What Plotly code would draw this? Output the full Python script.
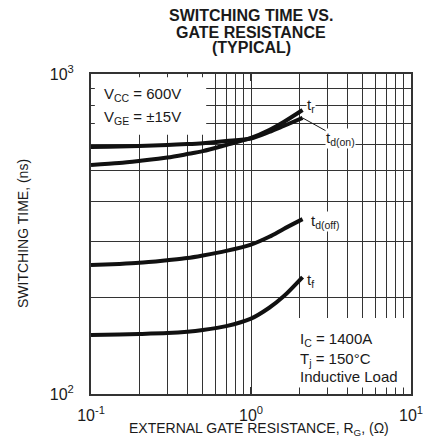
import math
import plotly.graph_objects as go

# ---- data ----
rg = [0.1, 0.15, 0.2, 0.3, 0.4, 0.5, 0.7, 1.0, 1.3, 1.6, 2.1]
t_r = [520, 527, 535, 548, 562, 574, 600, 631, 668, 708, 772]
t_d_on = [591, 593, 596, 600, 604, 608, 617, 629, 659, 688, 729]
t_d_off = [253, 255, 257, 262, 266, 271, 280, 293, 310, 328, 352]
t_f = [153, 153.5, 154, 155, 156.5, 158.5, 163, 172, 186, 202, 232]

x_major = [0.1, 1, 10]
x_major_text = ["10<sup>-1</sup>", "10<sup>0</sup>", "10<sup>1</sup>"]
x_minor = [0.2, 0.3, 0.4, 0.5, 0.6, 0.7, 0.8, 0.9, 2, 3, 4, 5, 6, 7, 8, 9]
y_major = [100, 1000]
y_major_text = ["10<sup>2</sup>", "10<sup>3</sup>"]
y_minor = [200, 300, 400, 500, 600, 700, 800, 900]

FONT = "Liberation Sans, Arial, Helvetica, sans-serif"
INK = "#1a1a1a"
GRID = "#333333"

fig = go.Figure()
for ys in (t_r, t_d_on, t_d_off, t_f):
    fig.add_trace(go.Scatter(x=rg, y=ys, mode="lines",
                             line=dict(color="#111111", width=4, shape="spline", smoothing=0.8),
                             showlegend=False, hoverinfo="skip"))

common_axis = dict(type="log", showline=True, linecolor=GRID, linewidth=2, mirror="ticks",
                   ticks="inside", tickcolor=GRID, zeroline=False,
                   showgrid=True, gridcolor=GRID, gridwidth=1,
                   tickfont=dict(family=FONT, size=16, color=INK))

fig.update_xaxes(**common_axis, range=[-1, 1], tickmode="array", tickvals=x_major, ticktext=x_major_text,
                 ticklen=7, tickwidth=2, ticklabelstandoff=6,
                 minor=dict(tickmode="array", tickvals=x_minor, ticks="inside", ticklen=5, tickwidth=1,
                            tickcolor=GRID, showgrid=True, gridcolor=GRID, gridwidth=1))
fig.update_yaxes(**common_axis, range=[2, 3], tickmode="array", tickvals=y_major, ticktext=y_major_text,
                 ticklen=7, tickwidth=2, ticklabelstandoff=12,
                 minor=dict(tickmode="array", tickvals=y_minor, ticks="inside", ticklen=5, tickwidth=1,
                            tickcolor=GRID, showgrid=True, gridcolor=GRID, gridwidth=1))

# white boxes behind condition text
fig.add_shape(type="rect", xref="paper", yref="paper", x0=0.012, x1=0.36, y0=0.81, y1=0.99,
              fillcolor="white", line_width=0, layer="above")
fig.add_shape(type="rect", xref="paper", yref="paper", x0=0.628, x1=0.985, y0=0.02, y1=0.2375,
              fillcolor="white", line_width=0, layer="above")

anns = []
# title lines
for txt, yy in (("SWITCHING TIME VS.", 1.183), ("GATE RESISTANCE", 1.131), ("(TYPICAL)", 1.083)):
    anns.append(dict(text="<b>" + txt + "</b>", xref="paper", yref="paper", x=0.5, y=yy,
                     xanchor="center", yanchor="middle", showarrow=False,
                     font=dict(family=FONT, size=16, color=INK)))
# axis titles
anns.append(dict(text="SWITCHING TIME, (ns)", xref="paper", yref="paper", x=-0.2125, y=0.5,
                 textangle=-90, xanchor="center", yanchor="middle", showarrow=False,
                 font=dict(family=FONT, size=14, color=INK)))
anns.append(dict(text="EXTERNAL GATE RESISTANCE, R<sub>G</sub>, (Ω)", xref="paper", yref="paper",
                 x=0.525, y=-0.108, xanchor="center", yanchor="middle", showarrow=False,
                 font=dict(family=FONT, size=14, color=INK)))
# conditions
for txt, yy in (("V<sub>CC</sub> = 600V", 0.935), ("V<sub>GE</sub> = ±15V", 0.865)):
    anns.append(dict(text=txt, xref="paper", yref="paper", x=0.033, y=yy, xanchor="left",
                     yanchor="middle", showarrow=False, font=dict(family=FONT, size=15, color=INK)))
for txt, yy in (("I<sub>C</sub> = 1400A", 0.17), ("T<sub>j</sub> = 150°C", 0.108), ("Inductive Load", 0.056)):
    anns.append(dict(text=txt, xref="paper", yref="paper", x=0.647, y=yy, xanchor="left",
                     yanchor="middle", showarrow=False, font=dict(family=FONT, size=15, color=INK)))

lab_font = dict(family=FONT, size=15, color=INK)
# curve labels
anns.append(dict(text="t<sub>r</sub>", x=math.log10(rg[-1]), y=math.log10(t_r[-1]), xanchor="left",
                 yanchor="middle", xshift=3, yshift=4, showarrow=False, bgcolor="white", borderpad=0,
                 font=lab_font))
anns.append(dict(text="t<sub>d(on)</sub>", x=math.log10(rg[-1]), y=math.log10(t_d_on[-1]),
                 showarrow=True, arrowhead=0, arrowwidth=1, arrowcolor=INK, ax=38, ay=21,
                 bgcolor="white", borderpad=0, font=lab_font))
anns.append(dict(text="t<sub>d(off)</sub>", x=math.log10(rg[-1]), y=math.log10(t_d_off[-1]), xanchor="left",
                 yanchor="middle", xshift=7, yshift=-2, showarrow=False, bgcolor="white", borderpad=0,
                 font=lab_font))
anns.append(dict(text="t<sub>f</sub>", x=math.log10(rg[-1]), y=math.log10(t_f[-1]), xanchor="left",
                 yanchor="middle", xshift=3, yshift=-3, showarrow=False, bgcolor="white", borderpad=0,
                 font=lab_font))

fig.update_layout(width=437, height=446, margin=dict(l=91, r=26, t=74, b=52),
                  paper_bgcolor="white", plot_bgcolor="white", annotations=anns,
                  font=dict(family=FONT, color=INK))

fig.write_html("out.html", config={"displayModeBar": False, "staticPlot": True},
               post_script="document.body.style.margin='0';document.body.style.overflow='hidden';")
